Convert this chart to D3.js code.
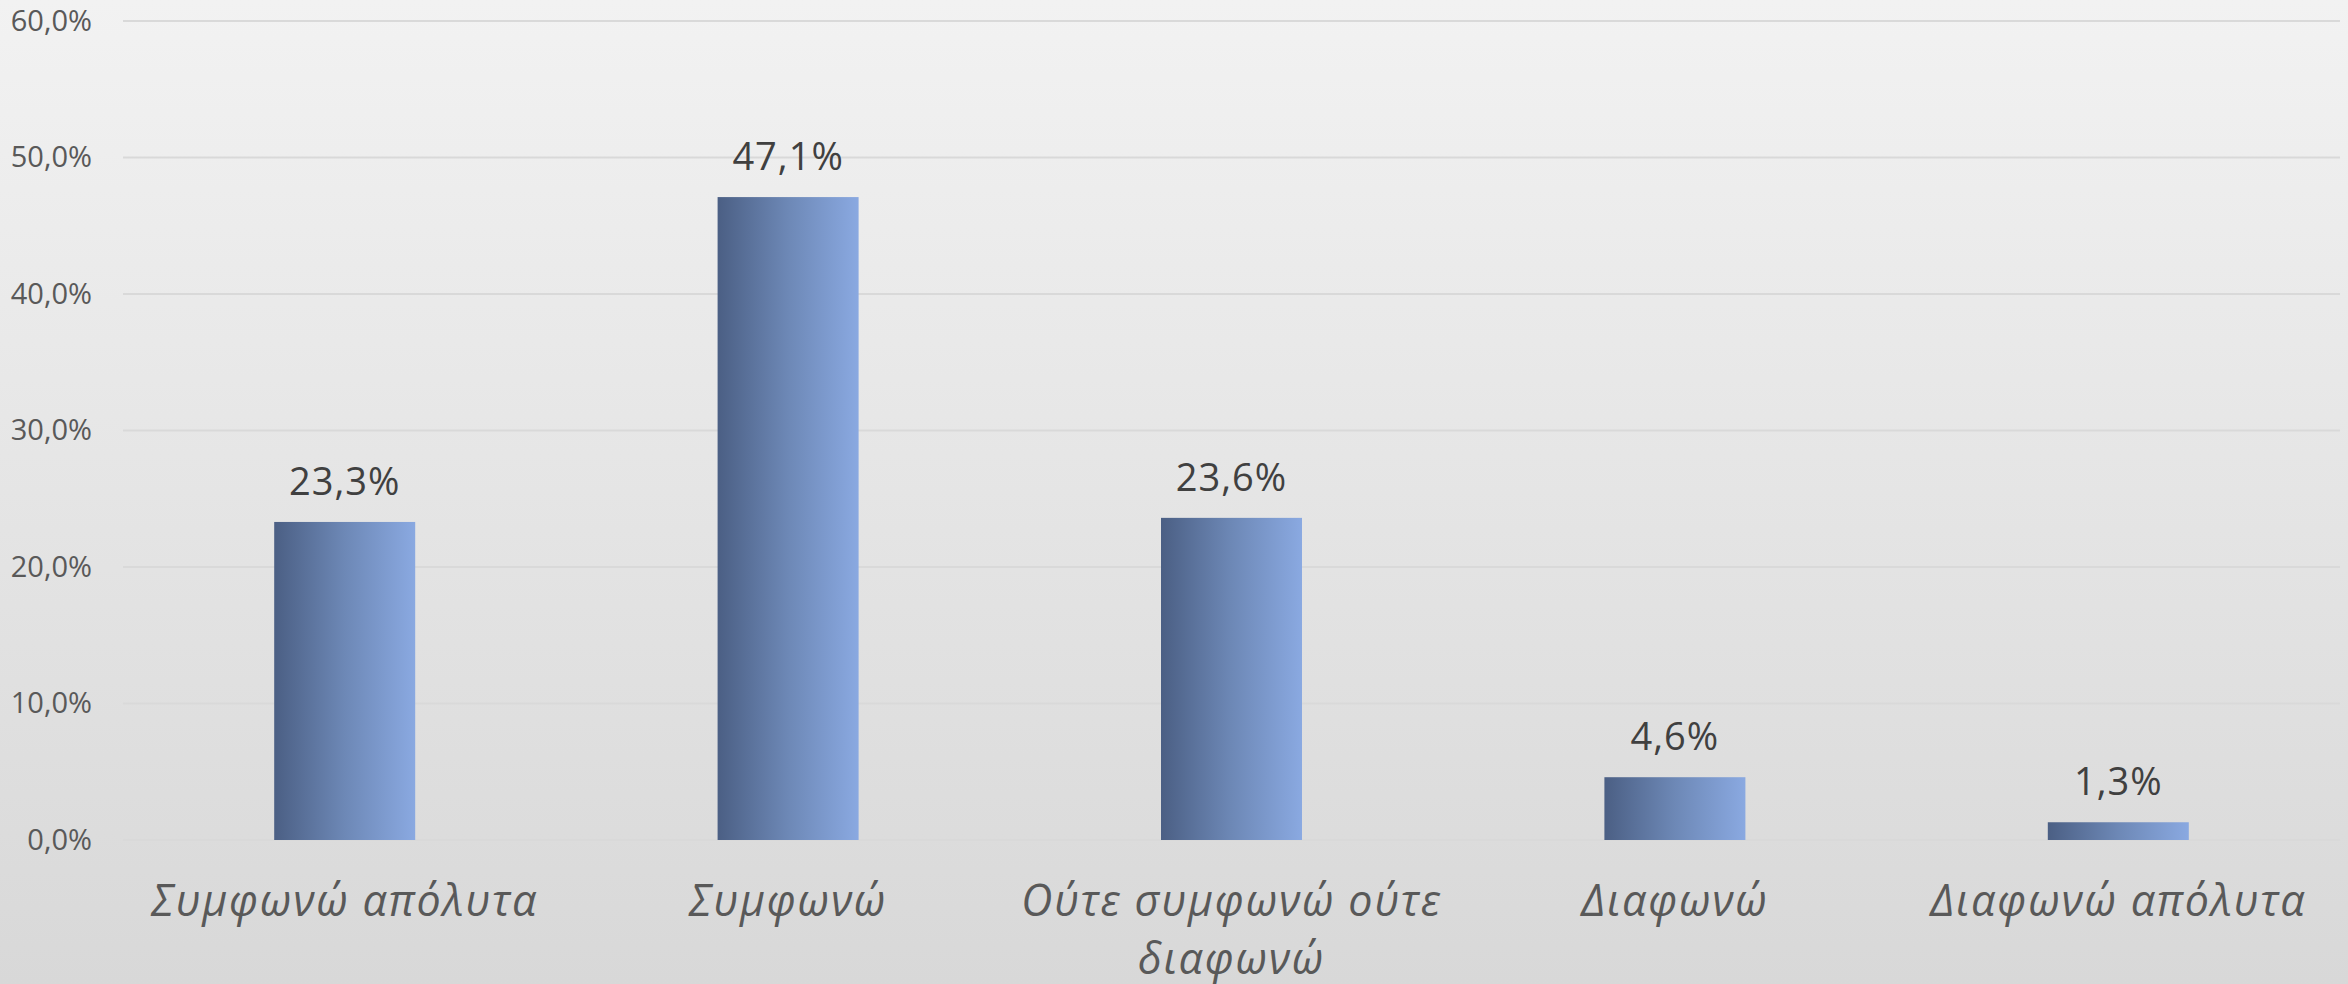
<!DOCTYPE html>
<html>
<head>
<meta charset="utf-8">
<script src="https://cdn.jsdelivr.net/npm/d3@7"></script>
<style>
  html, body { margin: 0; padding: 0; }
  body { width: 2348px; height: 984px; overflow: hidden; }
</style>
</head>
<body>
<svg id="canvas"></svg>
<script>
let categories = [
  ["Συμφωνώ απόλυτα"],
  ["Συμφωνώ"],
  ["Ούτε συμφωνώ ούτε", "διαφωνώ"],
  ["Διαφωνώ"],
  ["Διαφωνώ απόλυτα"]
]
let values = [23.3, 47.1, 23.6, 4.6, 1.3]
let yTicks = [0, 10, 20, 30, 40, 50, 60]

let width = 2348
let height = 984
let plotLeft = 123
let plotRight = 2340
let plotTop = 21
let plotBottom = 840

let svg = d3.select("#canvas")
    .attr("width", width)
    .attr("height", height)

let defs = svg.append("defs")

let bg = defs.append("linearGradient")
    .attr("id", "bg")
    .attr("x1", 0).attr("y1", 0)
    .attr("x2", 0).attr("y2", 1)
bg.append("stop").attr("offset", "0%").attr("stop-color", "#f2f2f2")
bg.append("stop").attr("offset", "100%").attr("stop-color", "#d8d8d8")

let barFill = defs.append("linearGradient")
    .attr("id", "barFill")
    .attr("x1", 0).attr("y1", 0)
    .attr("x2", 1).attr("y2", 0)
barFill.append("stop").attr("offset", "0%").attr("stop-color", "#4b5f84")
barFill.append("stop").attr("offset", "50%").attr("stop-color", "#6d88b6")
barFill.append("stop").attr("offset", "100%").attr("stop-color", "#8aa9e1")

svg.append("rect")
    .attr("width", width)
    .attr("height", height)
    .attr("fill", "url(#bg)")

let xScale = d3.scaleBand()
    .domain(d3.range(values.length))
    .range([plotLeft, plotRight])
    .paddingInner(0.682)
    .paddingOuter(0.341)

let yScale = d3.scaleLinear()
    .domain([0, 60])
    .range([plotBottom, plotTop])

// gridlines
svg.append("g")
    .selectAll("line")
    .data(yTicks)
    .enter()
    .append("line")
    .attr("x1", plotLeft)
    .attr("x2", plotRight)
    .attr("y1", (d) => yScale(d))
    .attr("y2", (d) => yScale(d))
    .attr("stroke", "#d9d9d9")
    .attr("stroke-width", 2)

// y axis labels
let yAxis = d3.axisLeft(yScale)
    .tickValues(yTicks)
    .tickSize(0)
    .tickPadding(31)
    .tickFormat((d) => d.toFixed(1).replace(".", ",") + "%")

let yG = svg.append("g")
    .attr("transform", "translate(" + plotLeft + ",0)")
    .call(yAxis)
yG.select(".domain").remove()
yG.selectAll("text")
    .attr("font-family", "'Open Sans', sans-serif")
    .attr("font-size", 29)
    .attr("fill", "#595959")

// bars
svg.append("g")
    .selectAll("rect")
    .data(values)
    .enter()
    .append("rect")
    .attr("x", (d, i) => xScale(i))
    .attr("y", (d) => yScale(d))
    .attr("width", xScale.bandwidth())
    .attr("height", (d) => yScale(0) - yScale(d))
    .attr("fill", "url(#barFill)")

// value labels
svg.append("g")
    .selectAll("text")
    .data(values)
    .enter()
    .append("text")
    .attr("x", (d, i) => xScale(i) + xScale.bandwidth() / 2)
    .attr("y", (d) => yScale(d) - 27)
    .attr("text-anchor", "middle")
    .attr("font-family", "'Open Sans', sans-serif")
    .attr("font-size", 38)
    .attr("letter-spacing", 1)
    .attr("fill", "#404040")
    .text((d) => d.toFixed(1).replace(".", ",") + "%")

// category labels
let catG = svg.append("g")
    .selectAll("text")
    .data(categories)
    .enter()
    .append("text")
    .attr("x", (d, i) => xScale(i) + xScale.bandwidth() / 2)
    .attr("y", 916)
    .attr("text-anchor", "middle")
    .attr("font-family", "'Open Sans', sans-serif")
    .attr("font-style", "italic")
    .attr("font-size", 43)
    .attr("letter-spacing", 1.8)
    .attr("fill", "#595959")

catG.selectAll("tspan")
    .data((d) => d)
    .enter()
    .append("tspan")
    .attr("x", function () { return d3.select(this.parentNode).attr("x") })
    .attr("dy", (d, i) => i == 0 ? 0 : 58)
    .text((d) => d)
</script>
</body>
</html>
